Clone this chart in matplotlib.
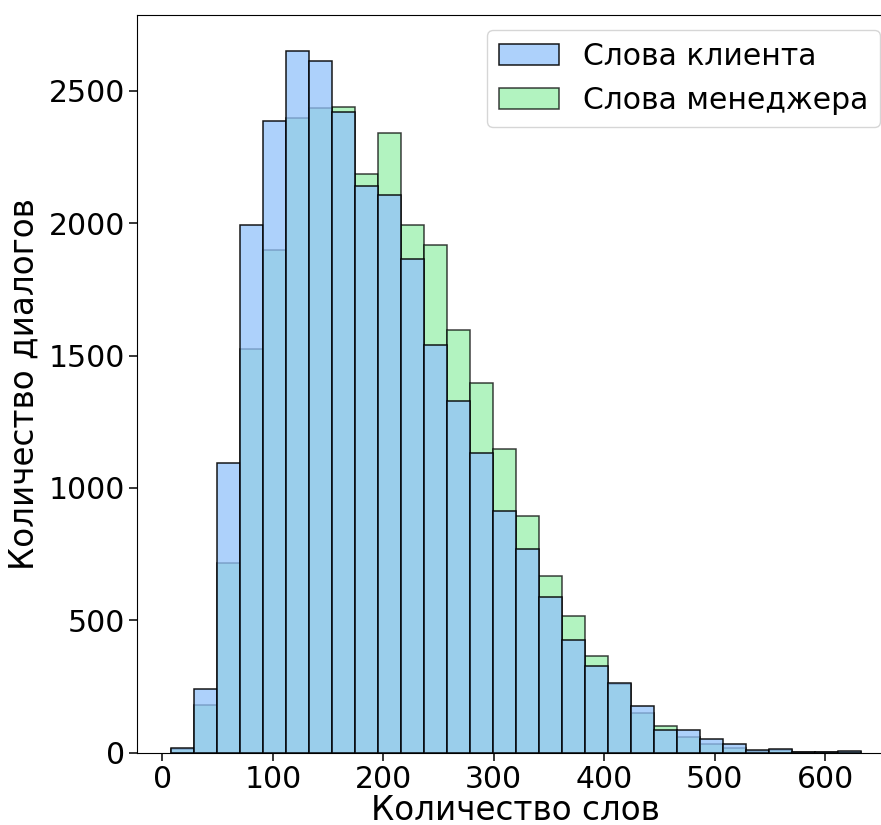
import matplotlib.pyplot as plt
import numpy as np

# shared bin edges (words per dialog)
edges = np.linspace(8, 632, 31)

client = [16, 239, 1095, 1993, 2385, 2651, 2611, 2418, 2141, 2105,
          1864, 1540, 1328, 1131, 914, 769, 587, 426, 329, 262,
          175, 86, 84, 50, 32, 11, 13, 3, 2, 5]
manager = [13, 180, 718, 1525, 1897, 2396, 2436, 2438, 2187, 2340,
           1994, 1917, 1597, 1397, 1146, 895, 668, 517, 366, 258,
           151, 100, 61, 33, 18, 8, 9, 2, 2, 4]

labels = ['Слова клиента', 'Слова менеджера']
colors = ['#92c2fa', '#98f0ab']

plt.rcParams['font.family'] = ['DejaVu Sans']

fig = plt.figure(figsize=(8.81, 8.25), dpi=100)
ax = fig.add_axes([0.1552, 0.0876, 0.8607, 0.8939])

left = edges[:-1]
width = np.diff(edges)

# manager underneath, client on top
b2 = ax.bar(left, manager, width=width, align='edge',
            facecolor=(*plt.matplotlib.colors.to_rgb(colors[1]), 0.75),
            edgecolor=(0, 0, 0, 0.75), linewidth=1.1, label=labels[1])
b1 = ax.bar(left, client, width=width, align='edge',
            facecolor=(*plt.matplotlib.colors.to_rgb(colors[0]), 0.75),
            edgecolor=(0, 0, 0, 0.9), linewidth=1.1, label=labels[0])

ax.set_xlim(-23.2, 663.2)
ax.set_ylim(0, 2785)
ax.set_xticks([0, 100, 200, 300, 400, 500, 600])
ax.set_yticks([0, 500, 1000, 1500, 2000, 2500])
ax.tick_params(labelsize=21.5, length=5.5, width=1.1, pad=3)

ax.set_xlabel('Количество слов', fontsize=23.5, labelpad=0)
ax.set_ylabel('Количество диалогов', fontsize=23.5, labelpad=6)

ax.legend([b1, b2], labels, loc='upper right', fontsize=21.5)

plt.savefig('out.png')
